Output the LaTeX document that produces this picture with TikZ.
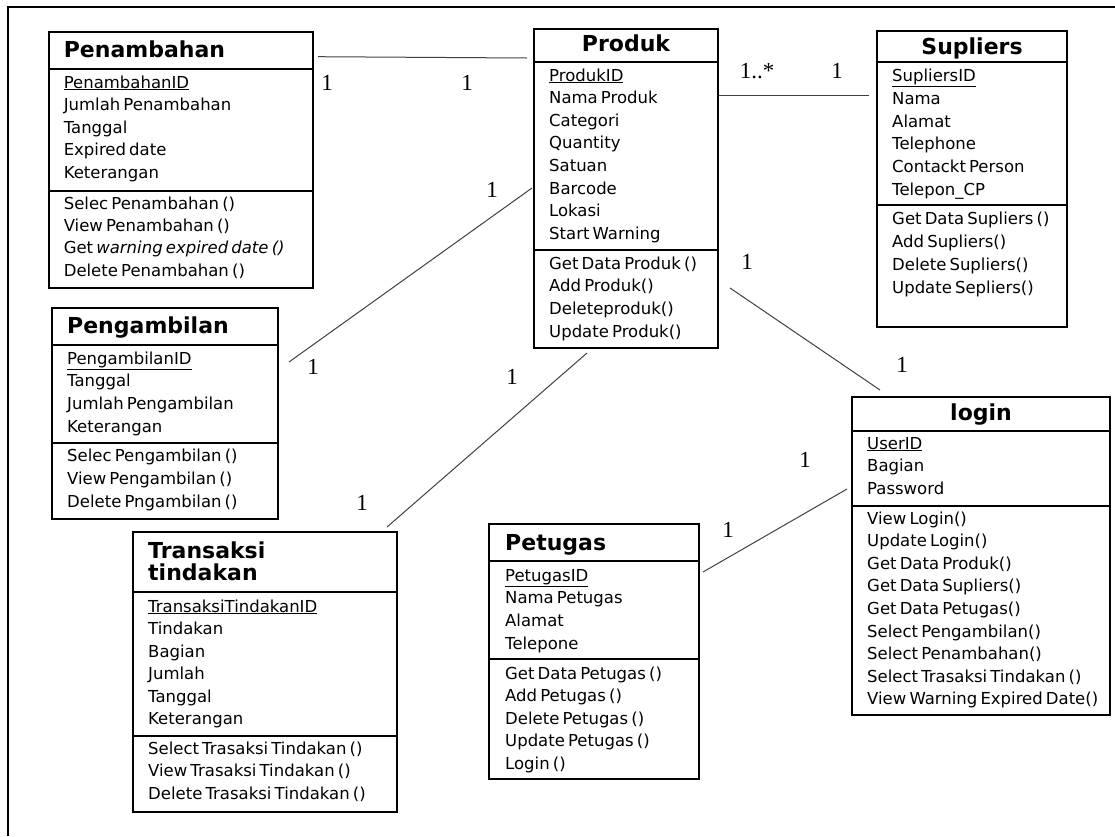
\documentclass[tikz,border=0pt]{standalone}
\usepackage{fontspec}
\usetikzlibrary{calc}
\newfontfamily\bodyfont{DejaVu Sans}[WordSpace=0.6]
\newfontfamily\numfont{Liberation Serif}
\begin{document}
\begin{tikzpicture}[x=1pt,y=-1pt,
  box/.style={draw, line width=1.4pt, inner sep=0pt, outer sep=0pt, anchor=north west},
  sepline/.style={line width=1.4pt},
  row/.style={anchor=base west, inner sep=0pt, font=\bodyfont\fontsize{16.5}{18}\selectfont},
  ttl/.style={anchor=base west, inner sep=0pt, font=\bodyfont\bfseries\fontsize{22}{24}\selectfont},
  ttlc/.style={ttl, anchor=base},
  mult/.style={inner sep=0pt, font=\numfont\fontsize{23}{23}\selectfont},
  assoc/.style={line width=1pt, draw=black!75}]
\useasboundingbox (0,0) rectangle (1115,836);
\draw[line width=2pt] (8,836) -- (8,7) -- (1115,7);

% ---------- Penambahan
\node[box, minimum width=264pt, minimum height=256pt] (pen) at (49,32) {};
\draw[sepline] (49,69) -- (313,69);
\draw[sepline] (49,191) -- (313,191);
\node[ttl] (pen-t) at (63.6,57.3) {Penambahan};
\foreach \t [count=\i from 0] in {{\underline{PenambahanID}},{Jumlah Penambahan},{Tanggal},{Expired date},{Keterangan}}
  \node[row] (pen-a\i) at (63.6,88+\i*22.5) {\t};
\foreach \t [count=\i from 0] in {{Selec Penambahan ()},{View Penambahan ()},{Get \textit{warning expired date ()}},{Delete Penambahan ()}}
  \node[row] (pen-m\i) at (63.6,209+\i*22.4) {\t};

% ---------- Produk
\node[box, minimum width=184pt, minimum height=319pt] (prod) at (534,29) {};
\draw[sepline] (534,62) -- (718,62);
\draw[sepline] (534,250) -- (718,250);
\node[ttlc] (prod-t) at (626,51.7) {Produk};
\foreach \t [count=\i from 0] in {{\underline{ProdukID}},{Nama Produk},{Categori},{Quantity},{Satuan},{Barcode},{Lokasi},{Start Warning}}
  \node[row] (prod-a\i) at (549,81+\i*22.6) {\t};
\foreach \t [count=\i from 0] in {{Get Data Produk ()},{Add Produk()},{Deleteproduk()},{Update Produk()}}
  \node[row] (prod-m\i) at (549,269+\i*22.7) {\t};

% ---------- Supliers
\node[box, minimum width=190pt, minimum height=296pt] (sup) at (877,31) {};
\draw[sepline] (877,62) -- (1067,62);
\draw[sepline] (877,205) -- (1067,205);
\node[ttlc] (sup-t) at (972,54) {Supliers};
\foreach \t [count=\i from 0] in {{\underline{SupliersID}},{Nama},{Alamat},{Telephone},{Contackt Person},{Telepon\_CP}}
  \node[row] (sup-a\i) at (892,81.7+\i*22.7) {\t};
\foreach \t [count=\i from 0] in {{Get Data Supliers ()},{Add Supliers()},{Delete Supliers()},{Update Sepliers()}}
  \node[row] (sup-m\i) at (892,224.3+\i*23) {\t};

% ---------- Pengambilan
\node[box, minimum width=226pt, minimum height=211pt] (peng) at (52,308) {};
\draw[sepline] (52,345) -- (278,345);
\draw[sepline] (52,443) -- (278,443);
\node[ttl] (peng-t) at (67,333.3) {Pengambilan};
\foreach \t [count=\i from 0] in {{\underline{PengambilanID}},{Tanggal},{Jumlah Pengambilan},{Keterangan}}
  \node[row] (peng-a\i) at (67,364+\i*22.7) {\t};
\foreach \t [count=\i from 0] in {{Selec Pengambilan ()},{View Pengambilan ()},{Delete Pngambilan ()}}
  \node[row] (peng-m\i) at (67,461+\i*23) {\t};

% ---------- Transaksi tindakan
\node[box, minimum width=264pt, minimum height=280pt] (trans) at (133,532) {};
\draw[sepline] (133,592) -- (397,592);
\draw[sepline] (133,736) -- (397,736);
\node[ttl] (trans-t1) at (148,558.3) {Transaksi};
\node[ttl] (trans-t2) at (148,580) {tindakan};
\foreach \t [count=\i from 0] in {{\underline{TransaksiTindakanID}},{Tindakan},{Bagian},{Jumlah},{Tanggal},{Keterangan}}
  \node[row] (trans-a\i) at (148,612+\i*22.5) {\t};
\foreach \t [count=\i from 0] in {{Select Trasaksi Tindakan ()},{View Trasaksi Tindakan ()},{Delete Trasaksi Tindakan ()}}
  \node[row] (trans-m\i) at (148,754+\i*22.5) {\t};

% ---------- Petugas
\node[box, minimum width=210pt, minimum height=255pt] (pet) at (489,524) {};
\draw[sepline] (489,561) -- (699,561);
\draw[sepline] (489,659) -- (699,659);
\node[ttl] (pet-t) at (505,550) {Petugas};
\foreach \t [count=\i from 0] in {{\underline{PetugasID}},{Nama Petugas},{Alamat},{Telepone}}
  \node[row] (pet-a\i) at (505,581+\i*22.7) {\t};
\foreach \t [count=\i from 0] in {{Get Data Petugas ()},{Add Petugas ()},{Delete Petugas ()},{Update Petugas ()},{Login ()}}
  \node[row] (pet-m\i) at (505,679+\i*22.5) {\t};

% ---------- login
\node[box, minimum width=258pt, minimum height=318pt] (login) at (852,397) {};
\draw[sepline] (852,431) -- (1110,431);
\draw[sepline] (852,506) -- (1110,506);
\node[ttlc] (login-t) at (981,420) {login};
\foreach \t [count=\i from 0] in {{\underline{UserID}},{Bagian},{Password}}
  \node[row] (login-a\i) at (867,449+\i*22.5) {\t};
\foreach \t [count=\i from 0] in {{View Login()},{Update Login()},{Get Data Produk()},{Get Data Supliers()},{Get Data Petugas()},{Select Pengambilan()},{Select Penambahan()},{Select Trasaksi Tindakan ()},{View Warning Expired Date()}}
  \node[row] (login-m\i) at (867,524+\i*22.6) {\t};

% ---------- associations
\draw[assoc] ($(pen.north east)+(5,24.7)$) -- ($(prod.north west)+(-7,29)$);
\draw[assoc] ($(prod.north east)+(1,66.7)$) -- ($(sup.north west)+(-8,64.7)$);
\draw[assoc] ($(prod.north west)+(-2,159)$) -- ($(peng.north east)+(11,54)$);
\draw[assoc] ($(prod.south west)+(53,5)$) -- ($(trans.north east)+(-10,-5)$);
\draw[assoc] ($(prod.north east)+(12,259)$) -- ($(login.north west)+(28,-7)$);
\draw[assoc] ($(pet.north east)+(4,48)$) -- ($(login.north west)+(-5,92)$);

% ---------- multiplicities
\node[mult] (m1a) at (327,83) {1};
\node[mult] (m1b) at (467,83) {1};
\node[mult] (m2a) at (757,71) {1..*};
\node[mult] (m2b) at (837,71) {1};
\node[mult] (m3a) at (492,190) {1};
\node[mult] (m3b) at (313,367) {1};
\node[mult] (m4a) at (512,377) {1};
\node[mult] (m4b) at (362,503) {1};
\node[mult] (m5a) at (747,262) {1};
\node[mult] (m5b) at (902,365) {1};
\node[mult] (m6a) at (728,530) {1};
\node[mult] (m6b) at (805,460) {1};
\end{tikzpicture}
\end{document}
